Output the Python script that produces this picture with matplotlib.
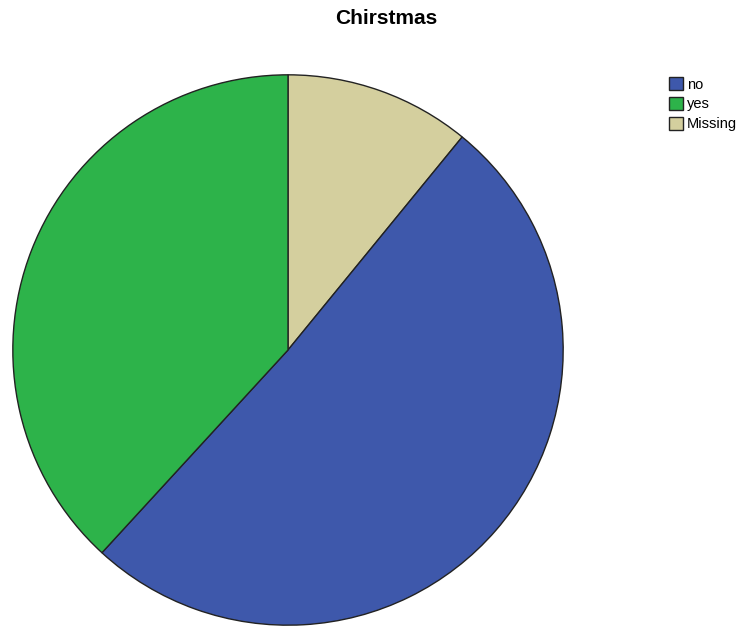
import matplotlib.pyplot as plt

plt.rcParams['font.family'] = ['Liberation Sans', 'DejaVu Sans']

labels = ["no", "yes", "Missing"]
counts = [28, 21, 6]
colors = ["#3E58AB", "#2DB34A", "#D4CF9E"]

fig = plt.figure(figsize=(7.43, 6.29), dpi=100)
ax = fig.add_axes([12 / 743, 3 / 629, 552 / 743, 552 / 629])

# slices drawn clockwise from 12 o'clock; Missing first, then no, then yes
order = [2, 0, 1]
wedges, _ = ax.pie([counts[i] for i in order], colors=[colors[i] for i in order],
                   startangle=90, counterclock=False, radius=1,
                   wedgeprops=dict(edgecolor="#222222", linewidth=1.0))
ax.set_xlim(-1.003, 1.003)
ax.set_ylim(-1.003, 1.003)
ax.set_aspect("equal")

fig.text(386 / 743, 1 - 19 / 629, "Chirstmas", ha="center", va="center",
         fontsize=15, fontweight="bold")

handles = [wedges[order.index(i)] for i in range(3)]
leg = fig.legend(handles, labels, loc="upper left",
                 bbox_to_anchor=(662 / 743, 1 - 70 / 629),
                 frameon=False, fontsize=10.5, handlelength=0.95, handleheight=0.95,
                 handletextpad=0.25, labelspacing=0.38, borderpad=0)

fig.savefig("out.png", dpi=100)
